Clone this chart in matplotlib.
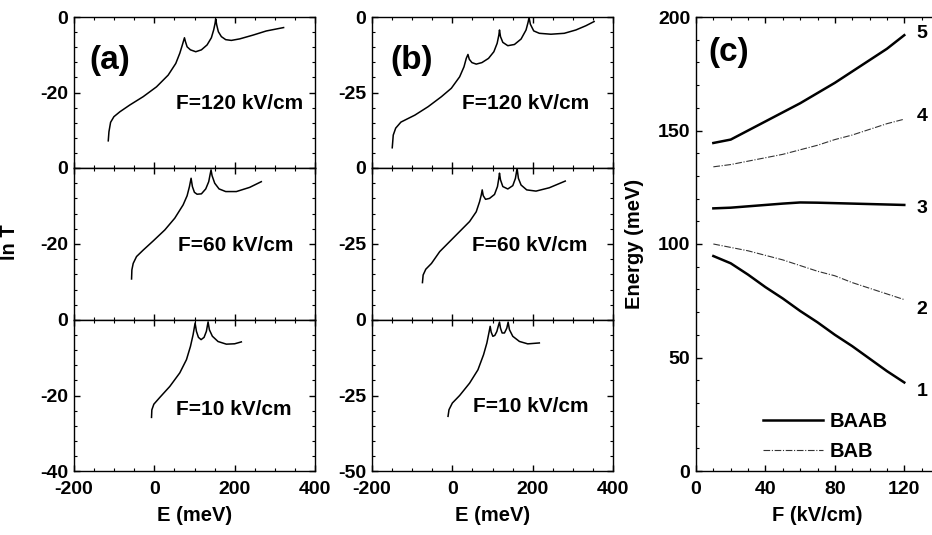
import matplotlib
matplotlib.use("Agg")
import matplotlib.pyplot as plt
from matplotlib.ticker import MultipleLocator

plt.rcParams['font.family'] = ['Liberation Sans', 'DejaVu Sans']
plt.rcParams['font.weight'] = 'bold'
plt.rcParams['axes.unicode_minus'] = False

# ---- transmission spectra, ln T vs E (meV) ----
# (a) BAAB
a120_E = [-114.7, -113, -108.9, -100.6, -85.7, -60.9, -27.7, 5.4, 34.4, 53.4, 63.4, 69.2, 72.5, 75, 77.4, 81.6,
          89.9, 103.1, 117.2, 131.3, 142, 147.8, 151.2, 152.8, 155.3, 159.4, 166.9, 177.7, 191.7, 212.5, 245.6,
          278.7, 321.8]
a120_T = [-32.8, -30.4, -27.9, -26.4, -25.1, -23.3, -21.1, -18.5, -15.4, -12.3, -9.6, -7.6, -6.4, -5.5, -6.5, -7.9,
          -8.7, -9.2, -8.7, -7.4, -5.5, -3.4, -1.7, -0.5, -2.1, -3.9, -5.2, -6, -6.2, -5.8, -4.8,
          -3.7, -2.8]
a60_E = [-56.7, -55.9, -52.6, -44.3, -27.7, -2.9, 26.1, 50.9, 71.7, 81.6, 87.4, 91.5, 94.8, 99.8, 106.4, 117.2,
         128, 135.4, 138.7, 141.2, 143.7, 150.3, 161.1, 177.7, 204.2, 237.3, 266.3]
a60_T = [-29.2, -26.8, -25.1, -23.3, -21.6, -19.2, -16.3, -13.2, -9.7, -7.3, -4.9, -2.7, -4.9, -6.4, -6.9, -6.8,
         -5.5, -3.6, -1.8, -0.5, -2, -4, -5.5, -6.2, -6.2, -5.1, -3.6]
a10_E = [-7, -6.2, -1.2, 13.7, 38.5, 63.4, 80, 89.9, 96.5, 101.5, 104.8, 109.8, 116.4, 123.8, 129.6, 133.8,
         137.1, 144.5, 158.6, 179.3, 200, 216.6]
a10_T = [-25.8, -23.8, -22.3, -20.5, -17.6, -14, -10.5, -7, -3.9, -0.8, -3, -4.6, -5.2, -4.6, -3, -0.5,
         -2.6, -4.3, -5.7, -6.4, -6.3, -5.8]

# (b) BAB
b120_E = [-149.6, -147.1, -141, -128, -110, -93.4, -60.3, -27.3, -2.5, 18.2, 29, 34.7, 38.9, 42.2, 48.8, 59.5,
          73.6, 90.1, 103.4, 111.6, 115.8, 117.4, 119.9, 125.7, 138.1, 154.6, 171.1, 183.5, 188.5, 191, 194.3,
          202.6, 216.6, 245.5, 278.6, 307.5, 332.4, 353]
b120_T = [-43.3, -39.1, -36.8, -34.8, -33.6, -32.5, -29.7, -26.4, -23.6, -19.8, -16.5, -13.7, -12.4, -14, -15.1, -15.6,
          -15.1, -13.7, -11.5, -8.7, -6, -4.3, -6.5, -8.4, -9.5, -9.1, -7.3, -4.3, -1.8, -0.2, -2.4,
          -4.6, -5.4, -5.7, -5.4, -4.3, -2.9, -1.5]
b60_E = [-74.4, -72.7, -66.1, -52, -31.4, -6.6, 18.2, 43, 59.5, 67.8, 72, 74.4, 76.9, 82.7, 92.6, 105, 112.4,
         115.7, 117.4, 119.9, 125.7, 138.1, 150.5, 157.1, 161.2, 164.5, 171.1, 185.2, 208.3, 241.4, 281.1]
b60_T = [-37.7, -35.2, -33.3, -31.4, -27.5, -24.2, -20.9, -17.6, -14.4, -11.1, -8.9, -7.2, -9.1, -10.3, -10, -8.7, -6.1,
         -3.4, -1.7, -3.9, -6.1, -6.9, -5.8, -3.4, -0.1, -3.4, -5.6, -7.2, -7.6, -6.5, -4.3]
b10_E = [-10.7, -8.3, 0, 18.2, 43, 63.7, 77.7, 86, 91, 94.2, 96.7, 100.9, 105.8, 110.8, 114.9, 117.4, 119.9,
         124, 129.8, 135.6, 138.9, 142.2, 150.5, 167, 187.7, 216.6]
b10_T = [-31.9, -29.7, -27.5, -25, -20.9, -16.5, -11.5, -7.6, -4.3, -2.1, -4, -5.4, -5.1, -3.8, -1.8, -0.7, -2.7,
         -4.3, -4.3, -2.7, -0.7, -3.2, -5.4, -7.1, -7.9, -7.6]

field_labels = ['F=120 kV/cm', 'F=60 kV/cm', 'F=10 kV/cm']

# ---- (c) energy levels vs field ----
F = [10, 20, 30, 40, 50, 60, 70, 80, 90, 100, 110, 120]
E5 = [144.5, 146, 150, 154, 158, 162, 166.5, 171, 176, 181, 186, 192]
E4 = [134, 135, 136.5, 138, 139.5, 141.5, 143.5, 146, 148, 150.5, 153, 155]
E3 = [115.7, 116, 116.6, 117.2, 117.8, 118.3, 118.2, 118, 117.8, 117.6, 117.4, 117.2]
E2 = [100, 98.5, 97, 95, 93, 90.5, 88, 86, 83, 80.5, 78, 75.5]
E1 = [94.7, 91.5, 86.5, 81, 76, 70.5, 65.5, 60, 55, 49.5, 44, 39]
level_names = ['1', '2', '3', '4', '5']
level_pos = [35, 71, 115.7, 156, 192.8]

W, H = 932, 535
fig = plt.figure(figsize=(W / 100, H / 100), dpi=100)


def box(l, t, r, b):
    return [l / W, 1 - b / H, (r - l) / W, (b - t) / H]


def style(ax, xmaj, xmin, ymaj, ymin):
    ax.xaxis.set_major_locator(MultipleLocator(xmaj))
    ax.xaxis.set_minor_locator(MultipleLocator(xmin))
    ax.yaxis.set_major_locator(MultipleLocator(ymaj))
    ax.yaxis.set_minor_locator(MultipleLocator(ymin))
    ax.tick_params(which='both', direction='in', top=True, right=True, labelsize=14)
    ax.tick_params(which='major', length=4, width=1)
    ax.tick_params(which='minor', length=2, width=0.8)
    ax.tick_params(axis='x', pad=7)
    ax.tick_params(axis='y', pad=4)
    for s in ax.spines.values():
        s.set_linewidth(1.0)


rows = [(17, 168), (168, 320), (320, 471)]

# column (a)
a_data = [(a120_E, a120_T), (a60_E, a60_T), (a10_E, a10_T)]
a_txt = [(0.423, 0.43), (0.43, 0.49), (0.423, 0.404)]
for i, (t, b) in enumerate(rows):
    ax = fig.add_axes(box(74, t, 315, b))
    ax.plot(a_data[i][0], a_data[i][1], color='black', lw=1.1)
    ax.set_xlim(-200, 400)
    ax.set_ylim(-40, 0)
    style(ax, 200, 50, 20, 4)
    if i < 2:
        ax.set_yticks([0, -20])
        ax.tick_params(axis='x', labelbottom=False)
    else:
        ax.set_yticks([0, -20, -40])
        ax.set_xlabel('E (meV)', fontsize=14.5, fontweight='bold', labelpad=6)
    ax.text(a_txt[i][0], a_txt[i][1], field_labels[i], transform=ax.transAxes,
            fontsize=15, fontweight='bold', va='center', ha='left')
    if i == 0:
        ax.text(0.062, 0.715, '(a)', transform=ax.transAxes, fontsize=24,
                fontweight='bold', va='center', ha='left')

# column (b)
b_data = [(b120_E, b120_T), (b60_E, b60_T), (b10_E, b10_T)]
b_txt = [(0.373, 0.43), (0.415, 0.49), (0.418, 0.426)]
for i, (t, b) in enumerate(rows):
    ax = fig.add_axes(box(372, t, 613, b))
    ax.plot(b_data[i][0], b_data[i][1], color='black', lw=1.1)
    ax.set_xlim(-200, 400)
    ax.set_ylim(-50, 0)
    style(ax, 200, 50, 25, 5)
    if i < 2:
        ax.set_yticks([0, -25])
        ax.tick_params(axis='x', labelbottom=False)
    else:
        ax.set_yticks([0, -25, -50])
        ax.set_xlabel('E (meV)', fontsize=14.5, fontweight='bold', labelpad=6)
    ax.text(b_txt[i][0], b_txt[i][1], field_labels[i], transform=ax.transAxes,
            fontsize=15, fontweight='bold', va='center', ha='left')
    if i == 0:
        ax.text(0.075, 0.715, '(b)', transform=ax.transAxes, fontsize=24,
                fontweight='bold', va='center', ha='left')

fig.text(10 / W, 1 - 242 / H, 'ln T', rotation=90, fontsize=14.5,
         fontweight='bold', va='center', ha='center')

# column (c)
axc = fig.add_axes(box(696, 17, 939, 471))
solid = dict(color='black', lw=1.8)
dashdot = dict(color='#333333', lw=0.8, ls=(0, (6, 1.5, 1, 1.5)))
axc.plot(F, E1, label='BAAB', **solid)
axc.plot(F, E3, **solid)
axc.plot(F, E5, **solid)
axc.plot(F, E2, label='BAB', **dashdot)
axc.plot(F, E4, **dashdot)
axc.set_xlim(0, 140)
axc.set_ylim(0, 200)
style(axc, 40, 10, 50, 10)
axc.set_xlabel('F (kV/cm)', fontsize=14.5, fontweight='bold', labelpad=6)
axc.set_ylabel('Energy (meV)', fontsize=14.5, fontweight='bold', labelpad=10)
for name, yv in zip(level_names, level_pos):
    axc.text(130.2, yv, name, fontsize=14, fontweight='bold', ha='center', va='center')
axc.text(0.049, 0.921, '(c)', transform=axc.transAxes, fontsize=24,
         fontweight='bold', va='center', ha='left')
axc.legend(loc='center left', bbox_to_anchor=(0.276, 0.075), frameon=False,
           borderpad=0, borderaxespad=0, handlelength=3.0, handletextpad=0.3,
           labelspacing=0.55, prop={'size': 14.5, 'weight': 'bold'})

fig.savefig('out.png', dpi=100)
